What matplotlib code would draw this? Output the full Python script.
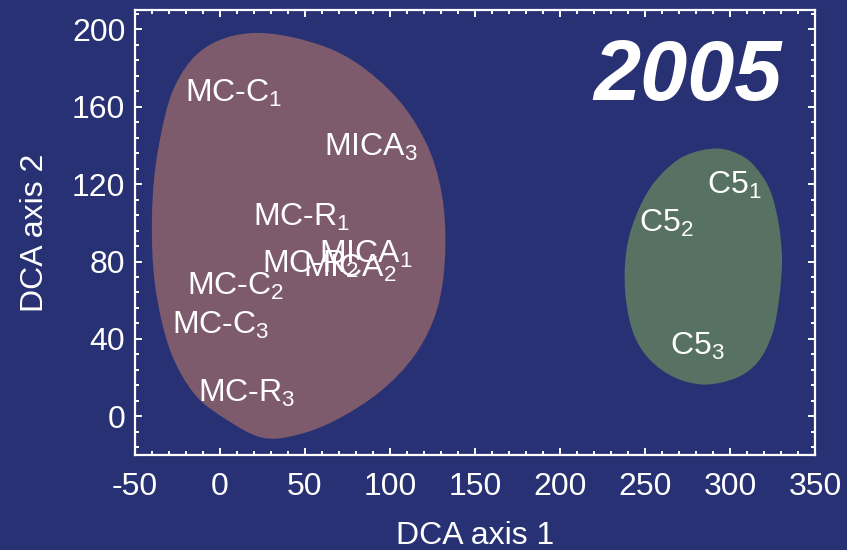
import numpy as np
import matplotlib
matplotlib.use("Agg")
import matplotlib.pyplot as plt
from matplotlib.path import Path
from matplotlib.patches import PathPatch
from matplotlib.ticker import MultipleLocator

# Sample scores on the first two DCA axes (label anchor = left/baseline)
sample_labels = [r"MC-C$_1$", r"MICA$_3$", r"MC-R$_1$", r"MICA$_1$", r"MC-R$_2$",
                 r"MICA$_2$", r"MC-C$_2$", r"MC-C$_3$", r"MC-R$_3$",
                 r"C5$_1$", r"C5$_2$", r"C5$_3$"]
sample_x = [-20.6, 61.2, 19.4, 58.2, 24.5, 48.6, -19.6, -28.1, -12.7, 286.7, 246.7, 264.7]
sample_y = [162.4, 134.5, 98.6, 79.4, 74.2, 72.0, 62.5, 42.8, 7.2, 115.0, 95.2, 31.6]

# Group envelopes (outline vertices in DCA units)
mc_env_x = [24.7, 67.6, 100.0, 120.6, 130.6, 132.4, 127.6, 114.7, 94.1, 67.6,
            44.1, 24.7, 4.7, -14.7, -29.4, -38.2, -40.0, -36.5, -26.5, -7.1]
mc_env_y = [198.1, 188.9, 168.3, 142.5, 114.2, 83.3, 55.0, 31.8, 12.7, -2.2,
            -9.9, -11.0, -2.2, 11.2, 34.3, 67.8, 103.9, 137.4, 170.8, 191.4]
c5_env_x = [292.9, 308.8, 318.8, 324.7, 328.8, 330.6, 328.8, 324.7, 316.5, 304.1,
            285.3, 267.6, 252.9, 243.5, 238.8, 238.2, 241.2, 248.8, 258.8, 273.5]
c5_env_y = [138.4, 133.7, 124.4, 114.1, 98.7, 80.7, 60.1, 42.1, 28.2, 20.0,
            16.4, 20.0, 29.2, 42.1, 60.1, 78.1, 94.6, 111.6, 124.4, 134.7]

x_ticks = [-50, 0, 50, 100, 150, 200, 250, 300, 350]
y_ticks = [0, 40, 80, 120, 160, 200]
year = "2005"

BG = "#283174"
MC_COLOR = "#7e5b6c"
C5_COLOR = "#577262"
FG = "white"

plt.rcParams["font.family"] = ["Liberation Sans", "DejaVu Sans"]
plt.rcParams["mathtext.fontset"] = "custom"
plt.rcParams["mathtext.rm"] = "Liberation Sans"
plt.rcParams["mathtext.default"] = "regular"


def smooth_closed(xs, ys):
    """Closed Catmull-Rom outline expressed as cubic Bezier segments."""
    pts = np.column_stack([xs, ys])
    n = len(pts)
    verts = [pts[0]]
    codes = [Path.MOVETO]
    for i in range(n):
        p0, p1 = pts[i - 1], pts[i]
        p2, p3 = pts[(i + 1) % n], pts[(i + 2) % n]
        verts += [p1 + (p2 - p0) / 6.0, p2 - (p3 - p1) / 6.0, p2]
        codes += [Path.CURVE4] * 3
    verts.append(pts[0])
    codes.append(Path.CLOSEPOLY)
    return Path(verts, codes)


fig = plt.figure(figsize=(8.47, 5.50), dpi=100, facecolor=BG)
ax = fig.add_axes([135 / 847, 95 / 550, 680 / 847, 445 / 550], facecolor=BG)

ax.add_patch(PathPatch(smooth_closed(mc_env_x, mc_env_y), facecolor=MC_COLOR,
                       edgecolor="none", zorder=1))
ax.add_patch(PathPatch(smooth_closed(c5_env_x, c5_env_y), facecolor=C5_COLOR,
                       edgecolor="none", zorder=1))

for lab, x, y in zip(sample_labels, sample_x, sample_y):
    ax.text(x, y, lab, color=FG, fontsize=23, ha="left", va="baseline", zorder=3)

ax.text(0.812, 0.848, year, transform=ax.transAxes, color=FG, fontsize=61,
        fontweight="bold", fontstyle="italic", ha="center", va="center",
        family=["Liberation Sans Narrow", "Liberation Sans"], zorder=3)

ax.set_xlim(-50, 350)
ax.set_ylim(-20, 210)
ax.set_xticks(x_ticks)
ax.set_yticks(y_ticks)
ax.set_xticklabels([str(t) for t in x_ticks])
ax.set_yticklabels([str(t) for t in y_ticks])
ax.xaxis.set_minor_locator(MultipleLocator(10))
ax.yaxis.set_minor_locator(MultipleLocator(8))

for s in ax.spines.values():
    s.set_color(FG)
    s.set_linewidth(1.6)

ax.tick_params(which="both", direction="in", top=True, right=True, colors=FG,
               width=1.4)
ax.tick_params(which="major", length=5, labelsize=23)
ax.tick_params(axis="x", which="major", pad=12)
ax.tick_params(axis="y", which="major", pad=7)
ax.tick_params(which="minor", length=3)

ax.set_xlabel("DCA axis 1", color=FG, fontsize=23, labelpad=14)
ax.set_ylabel("DCA axis 2", color=FG, fontsize=23, labelpad=16)

fig.savefig("out.png", dpi=100, facecolor=BG)
